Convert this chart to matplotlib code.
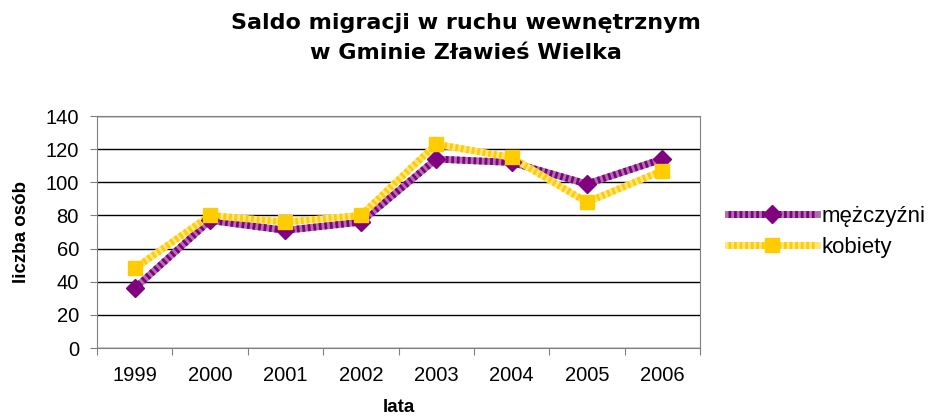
import matplotlib.pyplot as plt
import numpy as np
from matplotlib.lines import Line2D

# Data
years = ["1999", "2000", "2001", "2002", "2003", "2004", "2005", "2006"]
men = [36, 77, 71, 76, 114, 112, 99, 114]
women = [48, 80, 76, 80, 123, 115, 88, 107]

plt.rcParams['font.family'] = ['Liberation Sans', 'DejaVu Sans']

fig = plt.figure(figsize=(9.29, 4.18), dpi=100)
ax = fig.add_axes([97 / 929, 1 - 348 / 418, 603 / 929, 232 / 418])

x = np.arange(len(years)) + 0.5

# Patterned thick lines like Excel: lighter base with darker dotted overlay
dots = (0, (0.4, 0.4))
ax.plot(x, men, color='#b070b0', linewidth=5, zorder=3, solid_capstyle='butt')
ax.plot(x, men, color='#800080', linewidth=5, linestyle=dots, zorder=3)
ax.plot(x, women, color='#ffe680', linewidth=5, zorder=4, solid_capstyle='butt')
ax.plot(x, women, color='#ffcc00', linewidth=5, linestyle=dots, zorder=4)
ax.plot(x, men, linestyle='none', marker='D', markersize=9, color='#800080', zorder=5)
ax.plot(x, women, linestyle='none', marker='s', markersize=10, color='#ffcc00', zorder=6)

ax.set_xlim(0, len(years))
ax.set_ylim(0, 140)
ax.set_yticks(range(0, 141, 20))
ax.yaxis.grid(True, color='black', linewidth=1)
ax.set_axisbelow(True)

ax.set_xticks(range(len(years) + 1))
ax.set_xticklabels([])
ax.set_xticks(x, minor=True)
ax.set_xticklabels(years, minor=True)
ax.tick_params(axis='x', which='major', length=5, color='#808080', direction='out')
ax.tick_params(axis='x', which='minor', length=0, pad=13, labelsize=14.5)
ax.tick_params(axis='y', length=5, color='#808080', labelsize=14.5, pad=8)

for s in ax.spines.values():
    s.set_color('#808080')

ax.set_ylabel("liczba osób", fontsize=13.5, fontweight='bold', labelpad=11)
ax.set_xlabel("lata", fontsize=13.5, fontweight='bold', labelpad=10)

fig.text(0.502, 0.968, "Saldo migracji w ruchu wewnętrznym\nw Gminie Zławieś Wielka",
         ha='center', va='top', fontsize=16, fontweight='bold', linespacing=1.6,
         family='DejaVu Sans')

# Legend handles with the same patterned look
h_men = (Line2D([], [], color='#b070b0', linewidth=5),
         Line2D([], [], color='#800080', linewidth=5, linestyle=dots),
         Line2D([], [], color='#800080', linestyle='none', marker='D', markersize=9))
h_women = (Line2D([], [], color='#ffe680', linewidth=5),
           Line2D([], [], color='#ffcc00', linewidth=5, linestyle=dots),
           Line2D([], [], color='#ffcc00', linestyle='none', marker='s', markersize=10))
fig.legend([h_men, h_women], ["mężczyźni", "kobiety"],
           loc='center left', bbox_to_anchor=(728 / 929, 0.446), frameon=False,
           borderaxespad=0, borderpad=0,
           fontsize=16, handlelength=4, handletextpad=0.2, labelspacing=0.45)

fig.savefig("out.png", dpi=100)
